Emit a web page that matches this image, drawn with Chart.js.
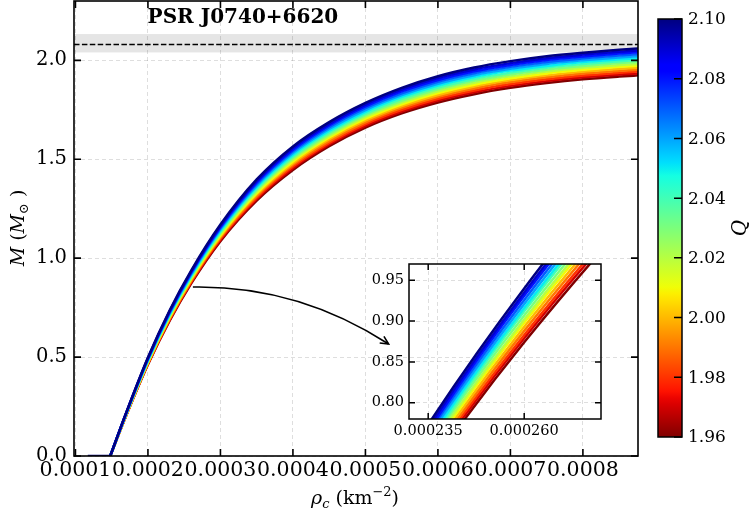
<!DOCTYPE html>
<html>
<head>
<meta charset="utf-8">
<script src="https://cdn.jsdelivr.net/npm/chart.js@4.4.0/dist/chart.umd.min.js"></script>
<style>
  html, body { margin: 0; padding: 0; background: #fff; }
  #wrap { position: relative; width: 750px; height: 517px; }
  #main { position: absolute; left: 0; top: 0; }
  #inset { position: absolute; left: 340px; top: 255px; }
</style>
</head>
<body>
<div id="wrap">
  <canvas id="main" width="750" height="517" style="width:750px;height:517px"></canvas>
  <canvas id="inset" width="270" height="195" style="width:270px;height:195px"></canvas>
</div>
<script>
// M(rho_c) curves for each Q
const qValues = [1.96, 1.97, 1.98, 1.99, 2.00, 2.01, 2.02, 2.03, 2.04, 2.05, 2.06, 2.07, 2.08, 2.09, 2.10];
const rhoC = [0.000148, 0.00017, 0.0002, 0.00023, 0.00026, 0.0003, 0.00035, 0.0004, 0.00045,
              0.0005, 0.00055, 0.0006, 0.00065, 0.0007, 0.00075, 0.0008, 0.00085, 0.00088];
const massQ196 = [0, 0.204, 0.462, 0.684, 0.874, 1.086, 1.291, 1.446, 1.566, 1.660, 1.732, 1.787, 1.829, 1.861, 1.885, 1.904, 1.918, 1.925];
const massQ197 = [0, 0.205, 0.465, 0.688, 0.879, 1.092, 1.299, 1.455, 1.575, 1.669, 1.741, 1.797, 1.839, 1.871, 1.895, 1.914, 1.928, 1.935];
const massQ198 = [0, 0.206, 0.467, 0.692, 0.883, 1.098, 1.306, 1.463, 1.583, 1.678, 1.750, 1.806, 1.848, 1.880, 1.904, 1.923, 1.937, 1.944];
const massQ199 = [0, 0.207, 0.470, 0.695, 0.888, 1.104, 1.314, 1.472, 1.592, 1.687, 1.760, 1.816, 1.858, 1.890, 1.914, 1.933, 1.947, 1.954];
const massQ200 = [0, 0.208, 0.472, 0.699, 0.893, 1.110, 1.322, 1.480, 1.601, 1.696, 1.769, 1.825, 1.868, 1.900, 1.924, 1.943, 1.957, 1.964];
const massQ201 = [0, 0.209, 0.475, 0.703, 0.898, 1.116, 1.329, 1.489, 1.610, 1.705, 1.778, 1.835, 1.877, 1.909, 1.934, 1.952, 1.967, 1.974];
const massQ202 = [0, 0.210, 0.477, 0.707, 0.902, 1.122, 1.337, 1.497, 1.618, 1.714, 1.787, 1.844, 1.887, 1.919, 1.943, 1.962, 1.976, 1.983];
const massQ203 = [0, 0.211, 0.480, 0.711, 0.907, 1.128, 1.345, 1.506, 1.627, 1.723, 1.796, 1.854, 1.897, 1.929, 1.953, 1.971, 1.986, 1.993];
const massQ204 = [0, 0.213, 0.483, 0.714, 0.912, 1.134, 1.352, 1.514, 1.636, 1.731, 1.806, 1.863, 1.906, 1.938, 1.963, 1.981, 1.996, 2.003];
const massQ205 = [0, 0.214, 0.485, 0.718, 0.916, 1.140, 1.360, 1.523, 1.644, 1.740, 1.815, 1.873, 1.916, 1.948, 1.972, 1.991, 2.005, 2.012];
const massQ206 = [0, 0.215, 0.488, 0.722, 0.921, 1.146, 1.367, 1.531, 1.653, 1.749, 1.824, 1.882, 1.925, 1.957, 1.982, 2.000, 2.015, 2.022];
const massQ207 = [0, 0.216, 0.490, 0.726, 0.926, 1.152, 1.375, 1.540, 1.662, 1.758, 1.833, 1.892, 1.935, 1.967, 1.992, 2.010, 2.025, 2.032];
const massQ208 = [0, 0.217, 0.493, 0.729, 0.931, 1.158, 1.383, 1.548, 1.671, 1.767, 1.843, 1.901, 1.945, 1.977, 2.002, 2.020, 2.035, 2.042];
const massQ209 = [0, 0.218, 0.495, 0.733, 0.935, 1.164, 1.390, 1.557, 1.679, 1.776, 1.852, 1.911, 1.954, 1.986, 2.011, 2.029, 2.044, 2.051];
const massQ210 = [0, 0.219, 0.498, 0.737, 0.940, 1.170, 1.398, 1.565, 1.688, 1.785, 1.861, 1.920, 1.964, 1.996, 2.021, 2.039, 2.054, 2.061];
const massSeries = [massQ196, massQ197, massQ198, massQ199, massQ200, massQ201, massQ202, massQ203,
                    massQ204, massQ205, massQ206, massQ207, massQ208, massQ209, massQ210];

// zero-mass branch before the curves take off
const flatRho = [0.000117, 0.000148];
const flatMass = [0, 0];

// PSR J0740+6620 mass and band
const psrMass = 2.08;
const psrLow = 2.04;
const psrHigh = 2.133;

const xTicks = [0.0001, 0.0002, 0.0003, 0.0004, 0.0005, 0.0006, 0.0007, 0.0008];
const yTicks = [0.0, 0.5, 1.0, 1.5, 2.0];
const insetXTicks = [0.000235, 0.000260];
const insetYTicks = [0.80, 0.85, 0.90, 0.95];
const cbTicks = [1.96, 1.98, 2.00, 2.02, 2.04, 2.06, 2.08, 2.10];

// arrow from the curve to the inset, data coords
const arrowFrom = { x: 0.000262, y: 0.854 };
const arrowTo = { x: 0.000532, y: 0.566 };

const qMin = 1.96, qMax = 2.10;
const SERIF = '"DejaVu Serif", serif';
Chart.defaults.font.family = SERIF;
Chart.defaults.color = '#000';

function lerpStops(t, stops) {
  for (let i = 1; i < stops.length; i++) {
    if (t <= stops[i][0]) {
      const [t0, v0] = stops[i - 1], [t1, v1] = stops[i];
      return v0 + (v1 - v0) * (t - t0) / (t1 - t0);
    }
  }
  return stops[stops.length - 1][1];
}
function jet(t) {
  const r = lerpStops(t, [[0, 0], [0.35, 0], [0.66, 1], [0.89, 1], [1, 0.5]]);
  const g = lerpStops(t, [[0, 0], [0.125, 0], [0.375, 1], [0.64, 1], [0.91, 0], [1, 0]]);
  const b = lerpStops(t, [[0, 0.5], [0.11, 1], [0.34, 1], [0.65, 0], [1, 0]]);
  return `rgb(${Math.round(r * 255)},${Math.round(g * 255)},${Math.round(b * 255)})`;
}
// jet_r: high Q is dark blue
function qColor(q) { return jet((qMax - q) / (qMax - qMin)); }

function buildDatasets() {
  const sets = massSeries.map((m, i) => ({
    data: rhoC.map((r, j) => ({ x: r, y: m[j] })),
    borderColor: qColor(qValues[i]),
    borderWidth: 2.5,
    pointRadius: 0,
    cubicInterpolationMode: 'monotone',
    order: qValues.length - i + 1
  }));
  sets.push({
    data: flatRho.map((r, j) => ({ x: r, y: flatMass[j] })),
    borderColor: qColor(qMax),
    borderWidth: 2.5,
    pointRadius: 0,
    order: 0
  });
  return sets;
}

const gridColor = 'rgba(0,0,0,0.13)';

function makeAxis(min, max, tickArr, fmt, size, pad, fit) {
  return {
    type: 'linear', min: min, max: max,
    afterBuildTicks: s => { s.ticks = tickArr.map(v => ({ value: v })); },
    afterFit: fit,
    ticks: { callback: fmt, font: { size: size }, padding: pad, maxRotation: 0, minRotation: 0, autoSkip: false },
    grid: { color: gridColor, drawTicks: false, lineWidth: 1 },
    border: { display: false, dash: [4, 3] }
  };
}

// frame + inward ticks on all four sides
const frameTicks = {
  id: 'frameTicks',
  afterDraw(chart, args, opts) {
    const { ctx, chartArea: a, scales: { x, y } } = chart;
    const L = opts.len;
    ctx.save();
    ctx.strokeStyle = '#000';
    ctx.lineWidth = opts.width;
    ctx.beginPath();
    x.ticks.forEach(t => {
      const px = x.getPixelForValue(t.value);
      ctx.moveTo(px, a.bottom); ctx.lineTo(px, a.bottom - L);
      ctx.moveTo(px, a.top); ctx.lineTo(px, a.top + L);
    });
    y.ticks.forEach(t => {
      const py = y.getPixelForValue(t.value);
      ctx.moveTo(a.left, py); ctx.lineTo(a.left + L, py);
      ctx.moveTo(a.right, py); ctx.lineTo(a.right - L, py);
    });
    ctx.stroke();
    ctx.strokeRect(a.left, a.top, a.right - a.left, a.bottom - a.top);
    ctx.restore();
  }
};

// grey band + dashed line for the pulsar mass
const psrBand = {
  id: 'psrBand',
  beforeDatasetsDraw(chart) {
    const { ctx, chartArea: a, scales: { y } } = chart;
    ctx.save();
    ctx.fillStyle = 'rgba(0,0,0,0.1)';
    const yh = y.getPixelForValue(psrHigh), yl = y.getPixelForValue(psrLow);
    ctx.fillRect(a.left, yh, a.right - a.left, yl - yh);
    ctx.strokeStyle = '#000';
    ctx.lineWidth = 1.3;
    ctx.setLineDash([5.5, 2.4]);
    const ym = y.getPixelForValue(psrMass);
    ctx.beginPath(); ctx.moveTo(a.left, ym); ctx.lineTo(a.right, ym); ctx.stroke();
    ctx.restore();
  }
};

function drawRich(ctx, parts, cx, cy) {
  let w = 0;
  parts.forEach(p => { ctx.font = p.f; p.w = ctx.measureText(p.t).width; w += p.w; });
  let x = cx - w / 2;
  ctx.textAlign = 'left';
  ctx.textBaseline = 'alphabetic';
  parts.forEach(p => { ctx.font = p.f; ctx.fillText(p.t, x, cy + (p.dy || 0)); x += p.w; });
}

const decorations = {
  id: 'decorations',
  afterDraw(chart) {
    const { ctx, scales: { x, y } } = chart;
    ctx.save();
    ctx.fillStyle = '#000';
    // title text inside the axes
    ctx.font = 'bold 20px ' + SERIF;
    ctx.textAlign = 'center';
    ctx.textBaseline = 'middle';
    ctx.fillText('PSR J0740+6620', x.getPixelForValue(0.000331), y.getPixelForValue(2.215));

    // x label
    const big = '19px ' + SERIF, bigI = 'italic 19px ' + SERIF;
    const sm = '13px ' + SERIF, smI = 'italic 13px ' + SERIF;
    drawRich(ctx, [
      { t: 'ρ', f: bigI }, { t: 'c', f: smI, dy: 4 },
      { t: ' (km', f: big }, { t: '−2', f: sm, dy: -8 }, { t: ')', f: big }
    ], 355, 504);

    // y label
    ctx.save();
    ctx.translate(24, 228);
    ctx.rotate(-Math.PI / 2);
    drawRich(ctx, [
      { t: 'M', f: bigI }, { t: ' (', f: big }, { t: 'M', f: bigI },
      { t: '⊙', f: sm, dy: 4 }, { t: ' )', f: big }
    ], 0, 0);
    ctx.restore();

    // arrow to the inset
    const p0 = { x: x.getPixelForValue(arrowFrom.x), y: y.getPixelForValue(arrowFrom.y) };
    const p2 = { x: x.getPixelForValue(arrowTo.x), y: y.getPixelForValue(arrowTo.y) };
    const dx = p2.x - p0.x, dy = p2.y - p0.y;
    const p1 = { x: (p0.x + p2.x) / 2 + 0.12 * dy, y: (p0.y + p2.y) / 2 - 0.155 * dx };
    ctx.strokeStyle = '#000';
    ctx.lineWidth = 1.6;
    ctx.beginPath();
    ctx.moveTo(p0.x, p0.y);
    ctx.quadraticCurveTo(p1.x, p1.y, p2.x, p2.y);
    ctx.stroke();
    const ang = Math.atan2(p2.y - p1.y, p2.x - p1.x);
    ctx.beginPath();
    ctx.moveTo(p2.x - 9 * Math.cos(ang - 0.45), p2.y - 9 * Math.sin(ang - 0.45));
    ctx.lineTo(p2.x, p2.y);
    ctx.lineTo(p2.x - 9 * Math.cos(ang + 0.45), p2.y - 9 * Math.sin(ang + 0.45));
    ctx.stroke();

    // colorbar
    const cb = { left: 658, top: 19, width: 24, height: 418 };
    const grad = ctx.createLinearGradient(0, cb.top + cb.height, 0, cb.top);
    for (let i = 0; i <= 64; i++) { const s = i / 64; grad.addColorStop(s, jet(1 - s)); }
    ctx.fillStyle = grad;
    ctx.fillRect(cb.left, cb.top, cb.width, cb.height);
    ctx.lineWidth = 1.5;
    ctx.strokeRect(cb.left, cb.top, cb.width, cb.height);
    ctx.fillStyle = '#000';
    ctx.font = '17px ' + SERIF;
    ctx.textAlign = 'left';
    ctx.textBaseline = 'middle';
    ctx.beginPath();
    cbTicks.forEach(q => {
      const py = cb.top + cb.height * (qMax - q) / (qMax - qMin);
      ctx.moveTo(cb.left + cb.width - 8, py); ctx.lineTo(cb.left + cb.width, py);
      ctx.fillText(q.toFixed(2), cb.left + cb.width + 6, py + 1);
    });
    ctx.stroke();
    ctx.save();
    ctx.translate(741, 228);
    ctx.rotate(-Math.PI / 2);
    ctx.font = 'italic 20px ' + SERIF;
    ctx.textAlign = 'center';
    ctx.fillText('Q', 0, 0);
    ctx.restore();

    ctx.restore();
  }
};

new Chart(document.getElementById('main'), {
  type: 'line',
  data: { datasets: buildDatasets() },
  options: {
    responsive: false,
    animation: false,
    layout: { padding: { left: 0, right: 112, top: 1, bottom: 0 } },
    plugins: { legend: { display: false }, tooltip: { enabled: false }, frameTicks: { len: 7, width: 1.6 } },
    scales: {
      x: makeAxis(0.000098, 0.000876, xTicks, v => v.toFixed(4), 20.5, 2,
        s => { s.height = 61; s.paddingLeft = 0; s.paddingRight = 0; }),
      y: makeAxis(0, 2.3, yTicks, v => v.toFixed(1), 19.5, 7,
        s => { s.width = 74; s.paddingTop = 0; s.paddingBottom = 0; })
    }
  },
  plugins: [psrBand, frameTicks, decorations]
});

new Chart(document.getElementById('inset'), {
  type: 'line',
  data: { datasets: buildDatasets() },
  options: {
    responsive: false,
    animation: false,
    layout: { padding: { left: 0, right: 9, top: 9, bottom: 0 } },
    plugins: { legend: { display: false }, tooltip: { enabled: false }, frameTicks: { len: 6, width: 1.5 } },
    scales: {
      x: makeAxis(0.00023, 0.00028, insetXTicks, v => v.toFixed(6), 14.5, 4,
        s => { s.height = 31; s.paddingLeft = 0; s.paddingRight = 0; }),
      y: makeAxis(0.78, 0.97, insetYTicks, v => v.toFixed(2), 14.5, 5,
        s => { s.width = 69; s.paddingTop = 0; s.paddingBottom = 0; })
    }
  },
  plugins: [frameTicks]
});
</script>
</body>
</html>
